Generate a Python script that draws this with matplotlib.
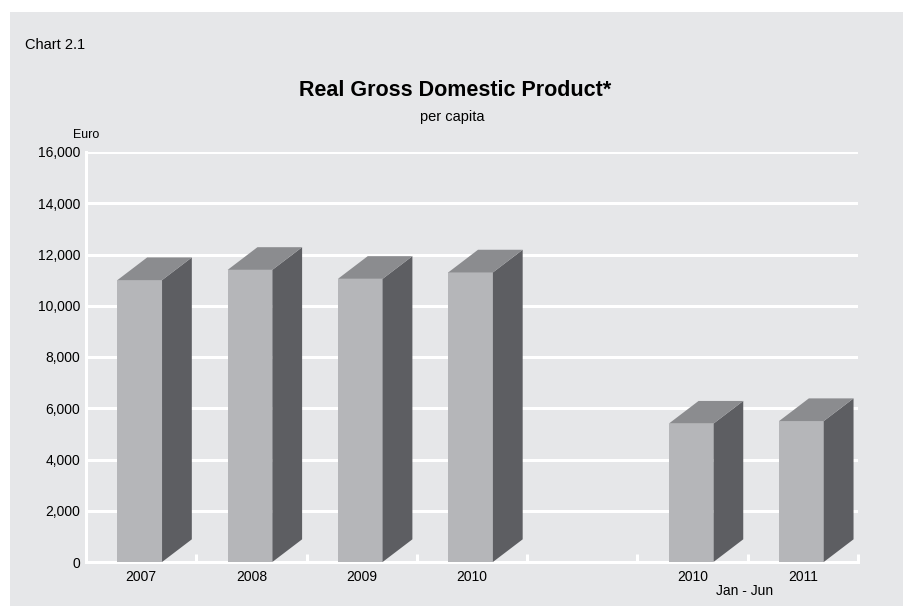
import matplotlib.pyplot as plt
import matplotlib.patches as mpatches
from matplotlib.ticker import FuncFormatter

plt.rcParams['font.family'] = ['Liberation Sans', 'DejaVu Sans']

# real GDP per capita, euro (blank slot separates full years from half-years)
years = ['2007', '2008', '2009', '2010', '', '2010', '2011']
gdp = [11000, 11400, 11050, 11300, None, 5400, 5500]

bg = '#e6e7e9'
front_col = '#b5b6b9'
side_col = '#5d5e62'
top_col = '#8b8c8f'

fig = plt.figure(figsize=(9.04, 6.06), dpi=100)
fig.patch.set_facecolor('white')
fig.patches.append(mpatches.Rectangle((10 / 904, -0.1), 2, 0.1 + (606 - 12) / 606,
                                      transform=fig.transFigure,
                                      facecolor=bg, edgecolor='none', zorder=-10))

ax = fig.add_axes([86 / 904, 44 / 606, 772 / 904, 410 / 606])
ax.set_facecolor(bg)
ax.set_xlim(-0.5, len(years) - 0.5)
ax.set_ylim(0, 16000)

# white grid
ax.set_yticks(range(0, 16001, 2000))
ax.yaxis.set_major_formatter(FuncFormatter(lambda v, p: f'{int(v):,}'))
ax.grid(axis='y', color='white', linewidth=2.2, zorder=0)
for s in ['top', 'right']:
    ax.spines[s].set_visible(False)
for s in ['left', 'bottom']:
    ax.spines[s].set_color('white')
    ax.spines[s].set_linewidth(2.2)
ax.tick_params(axis='y', length=0, labelsize=10, pad=4)

# x ticks on slot boundaries, labels on centres
ax.set_xticks([i + 0.5 for i in range(len(years))])
ax.set_xticks(range(len(years)), minor=True)
ax.set_xticklabels([])
ax.set_xticklabels(years, minor=True)
ax.tick_params(axis='x', which='major', direction='in', length=6, width=2.2, color='white')
ax.tick_params(axis='x', which='minor', length=0, labelsize=10, pad=6)

# pseudo-3D bars
w = 0.405
dx, dy = 0.27, 885
for i, v in enumerate(gdp):
    if v is None:
        continue
    xl = i - w / 2 - 0.013
    xr = xl + w
    ax.add_patch(mpatches.Rectangle((xl, 0), w, v, facecolor=front_col,
                                    edgecolor='none', zorder=3))
    ax.add_patch(mpatches.Polygon([(xr, 0), (xr + dx, dy), (xr + dx, v + dy), (xr, v)],
                                  closed=True, facecolor=side_col, edgecolor='none',
                                  zorder=3, clip_on=False))
    ax.add_patch(mpatches.Polygon([(xl, v), (xl + dx, v + dy), (xr + dx, v + dy), (xr, v)],
                                  closed=True, facecolor=top_col, edgecolor='none',
                                  zorder=3, clip_on=False))

fig.text(25 / 904, 1 - 45 / 606, 'Chart 2.1', fontsize=10.5, va='center', ha='left')
fig.text(455 / 904, 1 - 91 / 606, 'Real Gross Domestic Product*', fontsize=15.5,
         fontweight='bold', va='center', ha='center')
fig.text(452 / 904, 1 - 117 / 606, 'per capita', fontsize=10.5, va='center', ha='center')
fig.text(73 / 904, 1 - 135 / 606, 'Euro', fontsize=9, va='center', ha='left')
fig.text(745 / 904, 1 - 591 / 606, 'Jan - Jun', fontsize=10, va='center', ha='center')

fig.savefig('out.png', dpi=100, facecolor=fig.get_facecolor())
